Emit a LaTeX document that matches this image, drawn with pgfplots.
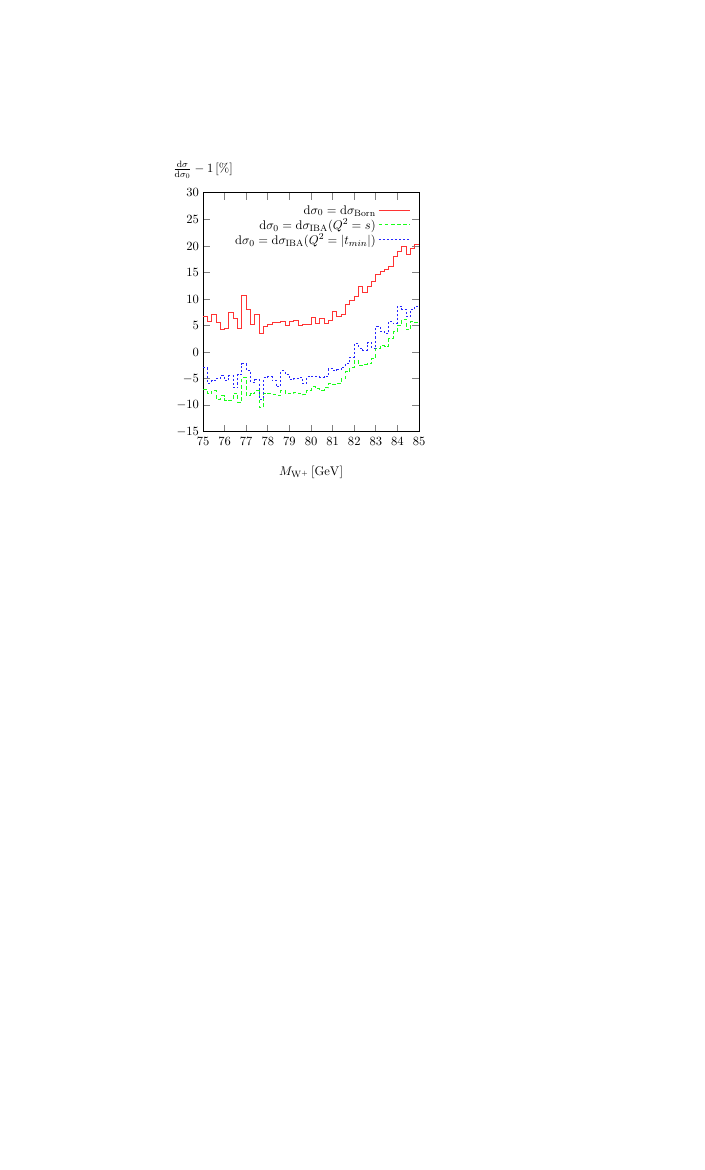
\documentclass[border=0pt]{standalone}
\usepackage{pgfplots}
\pgfplotsset{compat=1.18}

% histogram bins: left edge, value (last point repeats the last bin)
\pgfplotstableread{
x born iba tmin
75.0 6.8 -7.0 -2.9
75.2 5.8 -7.8 -5.8
75.4 7.1 -7.2 -5.3
75.6 5.6 -8.8 -4.9
75.8 4.3 -8.2 -4.4
76.0 4.5 -9.0 -5.3
76.2 7.5 -9.1 -4.4
76.4 6.4 -7.7 -6.7
76.6 4.4 -9.4 -4.2
76.8 10.6 -4.7 -2.2
77.0 8.1 -8.2 -3.4
77.2 5.3 -7.8 -5.6
77.4 7.2 -7.2 -5.2
77.6 3.5 -10.4 -8.8
77.8 4.8 -7.7 -4.8
78.0 5.2 -7.8 -4.6
78.2 5.6 -8.0 -5.3
78.4 5.6 -8.2 -6.5
78.6 5.8 -7.2 -3.5
78.8 5.1 -7.8 -4.2
79.0 5.8 -7.7 -5.2
79.2 5.9 -7.5 -5.0
79.4 5.0 -7.8 -4.8
79.6 5.3 -8.0 -5.9
79.8 5.3 -7.2 -4.6
80.0 6.5 -6.5 -4.5
80.2 5.4 -6.9 -4.6
80.4 6.3 -7.2 -4.7
80.6 5.4 -6.7 -4.6
80.8 6.0 -5.9 -3.1
81.0 7.7 -6.1 -3.4
81.2 6.8 -5.9 -3.3
81.4 7.1 -5.0 -2.8
81.6 8.9 -3.7 -2.2
81.8 9.7 -2.9 -0.9
82.0 10.5 -1.6 1.6
82.2 12.4 -2.5 0.8
82.4 11.3 -2.3 0.4
82.6 12.3 -2.2 1.8
82.8 13.4 -1.2 0.7
83.0 14.7 0.7 4.8
83.2 15.3 1.3 3.9
83.4 15.5 1.1 3.5
83.6 16.1 2.6 5.8
83.8 18.1 3.9 5.4
84.0 18.9 5.1 8.7
84.2 20.0 6.2 8.1
84.4 18.4 4.2 6.7
84.6 19.5 5.8 8.0
84.8 20.3 5.6 8.6
85.0 20.3 5.6 8.6
}\hist

\definecolor{gpred}{rgb}{1,0.2,0.2}
\definecolor{gpgreen}{rgb}{0.1,1,0.1}
\definecolor{gpblue}{rgb}{0.15,0.15,1}

\begin{document}
\begin{tikzpicture}[font=\fontsize{10.95}{13}\selectfont]
\path[use as bounding box] (0,0) rectangle (612bp,1017.1bp);
\begin{axis}[
    at={(176.5bp,641.6bp)}, anchor=south west,
    scale only axis,
    width=187.8bp, height=207.8bp,
    xmin=75, xmax=85,
    ymin=-15, ymax=30,
    xtick={75,76,...,85},
    ytick={-15,-10,...,30},
    tick align=inside,
    major tick length=6bp,
    axis line style={line width=0.9pt},
    major tick style={line width=0.9pt},
    xticklabel style={yshift=-1.5pt},
    xlabel={$M_{\mathrm{W}^+}\,[\mathrm{GeV}]$},
    xlabel style={at={(rel axis cs:0.5,-0.1675)}, anchor=center},
    ylabel={$\frac{\mathrm{d}\sigma}{\mathrm{d}\sigma_0}-1\,[\%]$},
    ylabel style={rotate=-90, at={(rel axis cs:0,1.096)}, anchor=center},
    legend cell align=right,
    legend plot pos=right,
    legend style={draw=none, fill=none, at={(rel axis cs:0.975,0.968)},
        anchor=north east, row sep=-1.5pt},
    legend image code/.code={\draw[#1] (0cm,0cm) -- (0.95cm,0cm);},
    every axis plot/.append style={line width=0.85pt},
]
\addplot[const plot, color=gpred] table[x=x, y=born] {\hist};
\addlegendentry{$\mathrm{d}\sigma_0=\mathrm{d}\sigma_{\mathrm{Born}}$}
\addplot[const plot, color=gpgreen, dash pattern=on 3.2pt off 2.2pt] table[x=x, y=iba] {\hist};
\addlegendentry{$\mathrm{d}\sigma_0=\mathrm{d}\sigma_{\mathrm{IBA}}(Q^2=s)$}
\addplot[const plot, color=gpblue, dash pattern=on 1.8pt off 1.8pt] table[x=x, y=tmin] {\hist};
\addlegendentry{$\mathrm{d}\sigma_0=\mathrm{d}\sigma_{\mathrm{IBA}}(Q^2=|t_{min}|)$}
\end{axis}
\end{tikzpicture}
\end{document}
